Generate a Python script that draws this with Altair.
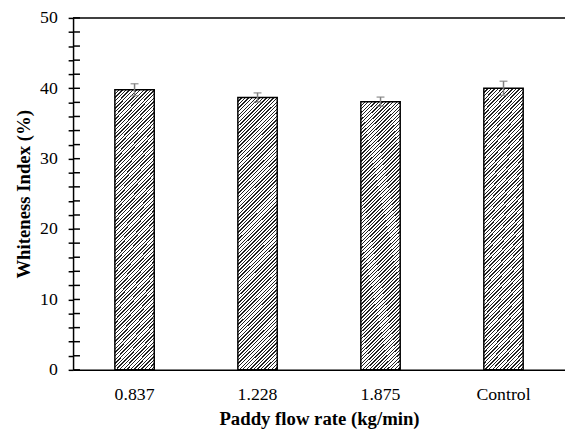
import altair as alt
import pandas as pd

categories = ["0.837", "1.228", "1.875", "Control"]
whiteness = [39.8, 38.7, 38.1, 40.0]
errors = [0.85, 0.65, 0.65, 1.0]
y_tick_values = list(range(0, 51, 2))

df = pd.DataFrame({"cat": categories, "val": whiteness, "err": errors})
df["lo"] = df["val"] - df["err"]
df["hi"] = df["val"] + df["err"]
top_df = pd.DataFrame({"top": [50]})
ticks_df = pd.DataFrame({"tv": y_tick_values})

# hatch fill built as a striped linear gradient
N = 88
dark = 0.38
stops = []
for k in range(N):
    a = k / N
    b = (k + dark) / N
    c = (k + 1) / N
    stops += [
        alt.GradientStop(offset=round(a, 5), color="#222222"),
        alt.GradientStop(offset=round(b, 5), color="#222222"),
        alt.GradientStop(offset=round(b, 5), color="#ffffff"),
        alt.GradientStop(offset=round(c, 5), color="#ffffff"),
    ]
hatch = alt.Gradient(gradient="linear", stops=stops, x1=0, y1=0, x2=0.161, y2=1.121)

FONT = "Liberation Serif"
W = 499
H = 357

xenc = alt.X(
    "cat:N",
    sort=categories,
    scale=alt.Scale(paddingInner=0.68, paddingOuter=0.34),
    axis=alt.Axis(
        title="Paddy flow rate (kg/min)",
        labelAngle=0,
        ticks=False,
        tickSize=0,
        domainColor="black",
        domainWidth=1.5,
        labelFont=FONT,
        labelFontSize=18,
        labelColor="black",
        labelPadding=16,
        titleFont=FONT,
        titleFontSize=19,
        titleFontWeight="bold",
        titleColor="black",
        titlePadding=6,
    ),
)

yscale = alt.Scale(domain=[0, 50], nice=False)
yaxis = alt.Axis(
    title="Whiteness Index (%)",
    orient="left",
    values=y_tick_values,
    labelExpr="datum.value % 10 === 0 ? datum.label : ''",
    grid=False,
    tickSize=5,
    tickWidth=1.5,
    tickColor="black",
    domainColor="black",
    domainWidth=1.5,
    labelFont=FONT,
    labelFontSize=18,
    labelColor="black",
    labelPadding=11,
    titleFont=FONT,
    titleFontSize=19,
    titleFontWeight="bold",
    titleColor="black",
    titlePadding=6,
)


def Y(field):
    return alt.Y(field, type="quantitative", scale=yscale, axis=yaxis)


bars = alt.Chart(df).mark_bar(fill=hatch, stroke="black", strokeWidth=1.5).encode(
    x=xenc, y=Y("val")
)

# inner half of the crossing y-axis ticks
inner_ticks = alt.Chart(ticks_df).mark_rule(color="black", strokeWidth=1.5).encode(
    y=Y("tv"),
    x=alt.value(0),
    x2=alt.value(7),
)

err_rule = alt.Chart(df).mark_rule(color="#7f7f7f", strokeWidth=1.5).encode(
    x=xenc, y=Y("lo"), y2="hi:Q"
)

cap_hi = alt.Chart(df).mark_tick(color="#7f7f7f", thickness=1.5, size=8).encode(
    x=xenc, y=Y("hi")
)
cap_lo = alt.Chart(df).mark_tick(color="#7f7f7f", thickness=1.5, size=8).encode(
    x=xenc, y=Y("lo")
)

top_rule = alt.Chart(top_df).mark_rule(color="black", strokeWidth=1.5).encode(
    y=Y("top")
)

chart = (
    alt.layer(bars, inner_ticks, err_rule, cap_hi, cap_lo, top_rule)
    .properties(
        width=W,
        height=H,
        background="white",
        padding={"left": 66, "top": 7, "right": 0, "bottom": 60},
        autosize=alt.AutoSizeParams(type="none"),
    )
    .configure_view(stroke=None)
)

chart.save("out.html", embed_options={"renderer": "svg", "actions": False})
